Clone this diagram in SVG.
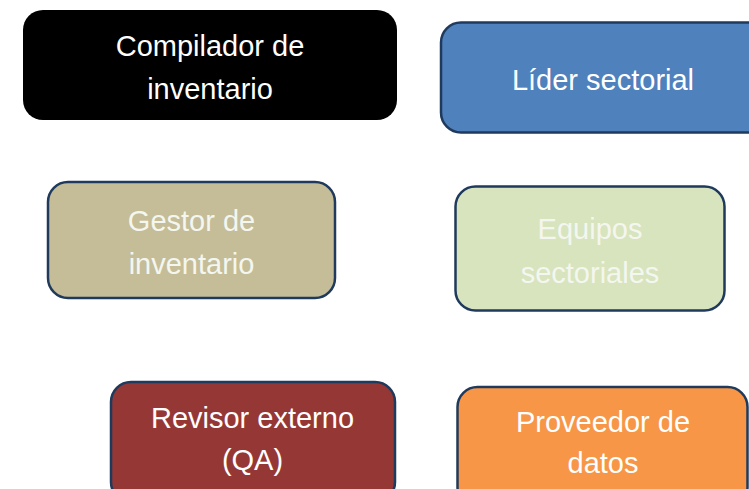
<svg xmlns="http://www.w3.org/2000/svg" width="749" height="489" viewBox="0 0 749 489">
<style>
.box{stroke:#1F3A5C;stroke-width:2.5}
.t{font-family:"Liberation Sans",Arial,sans-serif;font-size:29px;text-anchor:middle}
.w{fill:#FFFFFF}
.pale{fill:#F4F6F0}
</style>
<rect width="749" height="489" fill="#FFFFFF"/>
<g id="connectors"></g>
<g id="compilador">
<rect x="23" y="10" width="374" height="110" rx="20" fill="#000000"/>
<text class="t w" x="210" y="56">Compilador de</text>
<text class="t w" x="210" y="99">inventario</text>
</g>
<g id="lider">
<rect class="box" x="441" y="22.5" width="330" height="110" rx="20" fill="#4F81BD"/>
<text class="t w" x="603" y="90">Líder sectorial</text>
</g>
<g id="gestor">
<rect class="box" x="48" y="182" width="287" height="116" rx="20" fill="#C4BD97"/>
<text class="t pale" x="191.5" y="231">Gestor de</text>
<text class="t pale" x="191.5" y="274">inventario</text>
</g>
<g id="equipos">
<rect class="box" x="455.5" y="186.5" width="269" height="124" rx="20" fill="#D7E4BD"/>
<text class="t pale" x="590" y="239">Equipos</text>
<text class="t pale" x="590" y="283">sectoriales</text>
</g>
<g id="revisor">
<rect class="box" x="111" y="382" width="284" height="120" rx="20" fill="#953735"/>
<text class="t w" x="252.5" y="428">Revisor externo</text>
<text class="t w" x="252.5" y="470">(QA)</text>
</g>
<g id="proveedor">
<rect class="box" x="457.5" y="387" width="290" height="120" rx="20" fill="#F79646"/>
<text class="t w" x="603" y="432">Proveedor de</text>
<text class="t w" x="603" y="473">datos</text>
</g>
</svg>
